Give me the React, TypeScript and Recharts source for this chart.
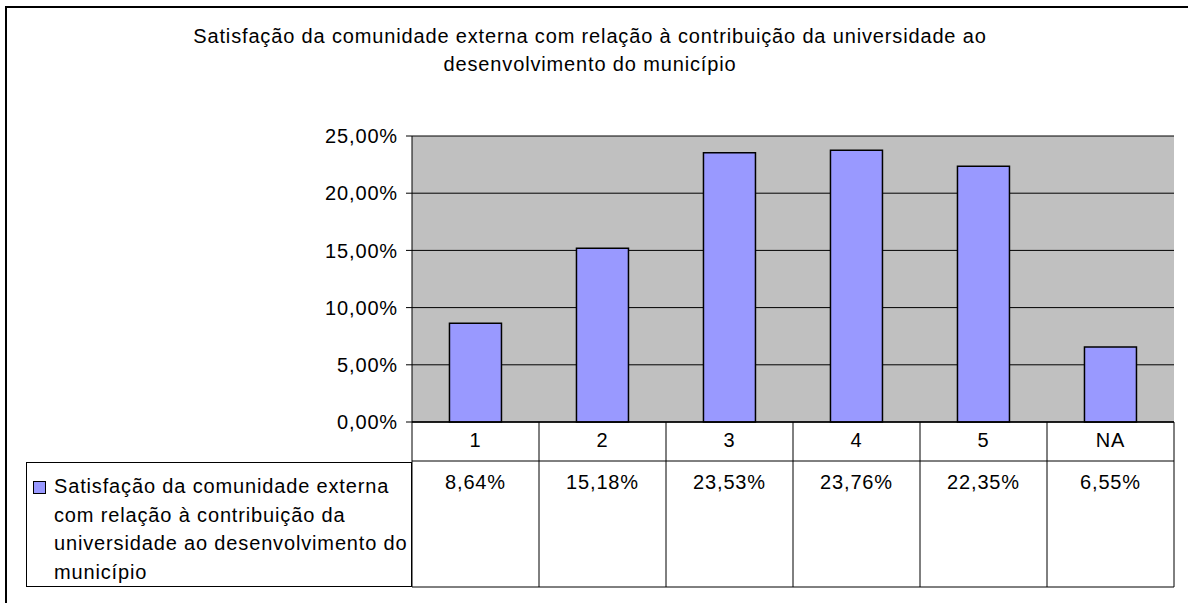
import {
  BarChart,
  Bar,
  XAxis,
  YAxis,
  CartesianGrid,
  Legend,
} from 'recharts';

const categories = ['1', '2', '3', '4', '5', 'NA'];
const values = [8.64, 15.18, 23.53, 23.76, 22.35, 6.55];
const yTicks = [0, 5, 10, 15, 20, 25];
const titleLines = [
  'Satisfação da comunidade externa com relação à contribuição da universidade ao',
  'desenvolvimento do município',
];
const legendLines = [
  'Satisfação da comunidade externa',
  'com relação à contribuição da',
  'universidade ao desenvolvimento do',
  'município',
];

const FONT = '"Liberation Sans", Arial, sans-serif';
const FONT_SIZE = 20;
const SPACING = 0.85;
const PLOT_LEFT = 412;
const PLOT_RIGHT = 1174;
const TABLE_H = 165;
const ROW1_H = 39;

const fmt = (v: number) => `${v.toFixed(2).replace('.', ',')}%`;

const chartData = categories.map((c, i) => ({ cat: c, value: values[i] }));

function TableTick(props: any) {
  const { x, y, payload } = props;
  const idx = categories.indexOf(payload.value);
  const colW = (PLOT_RIGHT - PLOT_LEFT) / categories.length;
  const left = x - colW / 2;
  const right = x + colW / 2;
  const textStyle = { fontFamily: FONT, fontSize: FONT_SIZE, letterSpacing: SPACING };
  return (
    <g>
      <line x1={left} x2={left} y1={y} y2={y + TABLE_H} stroke="#000" strokeWidth={1} />
      {idx === categories.length - 1 && (
        <line x1={right} x2={right} y1={y} y2={y + TABLE_H} stroke="#000" strokeWidth={1} />
      )}
      <line x1={left} x2={right} y1={y + ROW1_H} y2={y + ROW1_H} stroke="#000" strokeWidth={1} />
      <line x1={left} x2={right} y1={y + TABLE_H} y2={y + TABLE_H} stroke="#000" strokeWidth={1} />
      <text x={x} y={y + 25} textAnchor="middle" fill="#000" style={textStyle}>
        {payload.value}
      </text>
      <text x={x} y={y + 67} textAnchor="middle" fill="#000" style={textStyle}>
        {fmt(values[idx])}
      </text>
    </g>
  );
}

function LegendCell() {
  return (
    <div
      style={{
        width: 386,
        height: 125,
        border: '1px solid #000',
        boxSizing: 'border-box',
        fontFamily: FONT,
        fontSize: FONT_SIZE,
        letterSpacing: SPACING,
        lineHeight: '28.5px',
        color: '#000',
        position: 'relative',
        paddingLeft: 27,
        paddingTop: 9,
        textAlign: 'left',
      }}
    >
      <span
        style={{
          position: 'absolute',
          left: 6,
          top: 18,
          width: 11,
          height: 11,
          background: '#9999FF',
          border: '1px solid #000',
        }}
      />
      {legendLines.map((l) => (
        <div key={l} style={{ whiteSpace: 'nowrap' }}>{l}</div>
      ))}
    </div>
  );
}

export default function App() {
  return (
    <div style={{ position: 'absolute', left: 0, top: 0, width: 1188, height: 603, background: '#fff' }}>
      <div
        style={{
          position: 'absolute',
          left: 5,
          top: 6,
          width: 1183,
          height: 597,
          borderLeft: '2px solid #000',
          borderTop: '2px solid #000',
          boxSizing: 'border-box',
        }}
      />
      <div
        style={{
          position: 'absolute',
          left: 0,
          top: 22,
          width: 1180,
          textAlign: 'center',
          fontFamily: FONT,
          fontSize: FONT_SIZE,
          letterSpacing: SPACING,
          lineHeight: '28px',
          color: '#000',
        }}
      >
        {titleLines.map((l) => (
          <div key={l}>{l}</div>
        ))}
      </div>
      <div style={{ position: 'absolute', left: 0, top: 0 }}>
        <BarChart
          width={1188}
          height={603}
          data={chartData}
          margin={{ top: 136, right: 1188 - PLOT_RIGHT, bottom: 603 - 422 - TABLE_H, left: 0 }}
          barCategoryGap="29.5%"
        >
          <CartesianGrid vertical={false} stroke="#000" fill="#C0C0C0" />
          <XAxis
            dataKey="cat"
            height={TABLE_H}
            tickLine={false}
            tickSize={0}
            tickMargin={0}
            axisLine={{ stroke: '#000', strokeWidth: 1.5 }}
            tick={<TableTick />}
            interval={0}
          />
          <XAxis xAxisId="top" orientation="top" dataKey="cat" height={0} tick={false} tickLine={false} axisLine={{ stroke: '#808080' }} />
          <YAxis
            width={PLOT_LEFT}
            domain={[0, 25]}
            ticks={yTicks}
            tickFormatter={fmt}
            tickSize={6}
            tickMargin={8}
            tickLine={{ stroke: '#000' }}
            axisLine={{ stroke: '#000' }}
            tick={{ fill: '#000', fontFamily: FONT, fontSize: FONT_SIZE, letterSpacing: SPACING }}
          />
          <YAxis yAxisId="right" orientation="right" width={0} tick={false} tickLine={false} axisLine={{ stroke: '#808080' }} />
          <Legend
            layout="vertical"
            align="center"
            verticalAlign="middle"
            content={<LegendCell />}
            wrapperStyle={{ position: 'absolute', left: 26, top: 462, width: 386, height: 125 }}
          />
          <Bar
            dataKey="value"
            fill="#9999FF"
            stroke="#000"
            strokeWidth={1.5}
            isAnimationActive={false}
          />
        </BarChart>
      </div>
    </div>
  );
}
